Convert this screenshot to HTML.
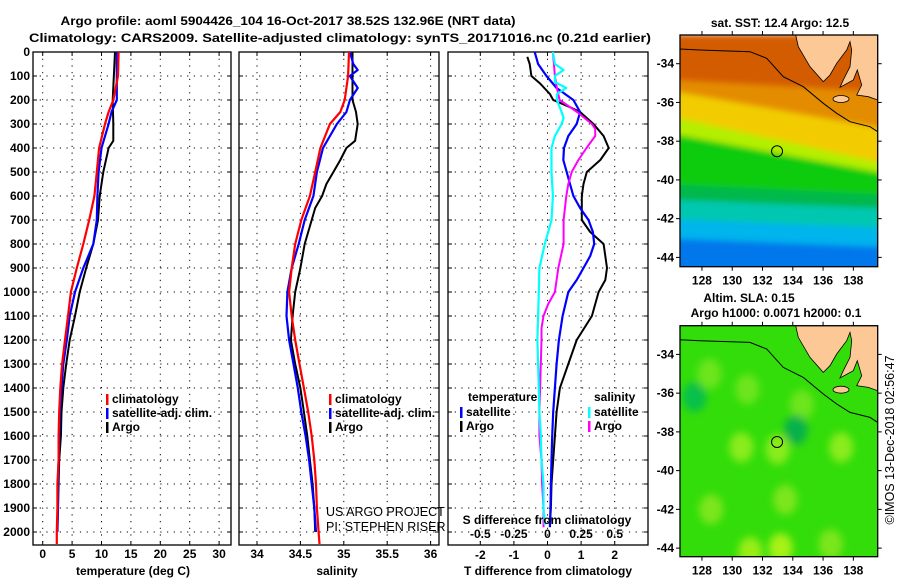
<!DOCTYPE html>
<html><head><meta charset="utf-8"><style>
html,body{margin:0;padding:0;background:#fff;}
svg{display:block;font-family:"Liberation Sans",sans-serif;}
.b{font-weight:bold;font-size:12px;fill:#000;}
</style></head><body>
<svg id="root" width="900" height="580" viewBox="0 0 900 580" xmlns="http://www.w3.org/2000/svg">
<text class="b" x="288" y="25" text-anchor="middle" font-size="13" textLength="455" lengthAdjust="spacingAndGlyphs">Argo profile: aoml 5904426_104 16-Oct-2017 38.52S 132.96E (NRT data)</text>
<text class="b" x="340" y="42" text-anchor="middle" font-size="13" textLength="622" lengthAdjust="spacingAndGlyphs">Climatology: CARS2009. Satellite-adjusted climatology: synTS_20171016.nc (0.21d earlier)</text>
<g id="plots"></g>
<g id="maps"></g>
</svg>
<script>
// ---------- profile data ----------
const tArgoDepth=[0,200,300,370,400,500,600,700,800,900,1000,1100,1200,1300,1400,1500,1600,1700,1800,1900,1980];
const tArgo=[12.3,11.9,12.0,12.0,11.2,10.3,9.7,9.4,8.6,7.4,6.3,5.5,4.6,4.0,3.5,3.2,3.1,2.8,2.7,2.6,2.5];
const tClimDepth=[0,100,200,250,300,400,500,600,700,800,900,1000,1100,1200,1300,1400,1500,1600,1700,1800,1900,2000,2050];
const tClim=[12.9,12.8,12.0,11.2,10.6,9.6,9.2,8.8,7.9,6.9,5.8,4.8,4.3,3.8,3.3,3.0,2.8,2.7,2.7,2.5,2.5,2.4,2.4];
const tSatDepth=[0,200,250,300,400,500,600,700,800,900,1000,1100,1200,1300,1400,1500,1600,1700,1800,1900,2000];
const tSat=[12.6,12.6,11.7,11.2,10.0,9.5,9.3,9.2,8.6,6.9,5.5,4.6,4.1,3.5,3.2,2.9,2.8,2.7,2.6,2.6,2.5];

const sArgoDepth=[0,200,250,300,370,400,450,500,550,600,650,700,800,900,1000,1100,1200,1300,1400,1500,1600,1700,1800,1900,2000];
const sArgo=[35.10,35.10,35.14,35.16,35.13,35.03,34.96,34.88,34.80,34.75,34.67,34.63,34.55,34.50,34.44,34.41,34.39,34.44,34.50,34.54,34.58,34.61,34.64,34.66,34.67];
const sClimDepth=[0,100,200,250,300,400,500,600,700,800,900,1000,1100,1200,1300,1400,1500,1600,1700,1800,1900,2000,2050];
const sClim=[35.06,35.05,35.01,34.96,34.84,34.73,34.67,34.61,34.51,34.44,34.40,34.37,34.40,34.44,34.49,34.54,34.59,34.63,34.66,34.68,34.69,34.71,34.72];
const sSatDepth=[0,50,75,100,150,200,250,300,400,500,600,700,800,900,1000,1100,1200,1300,1400,1500,1600,1700,1800,1900,2000];
const sSat=[35.07,35.11,35.16,35.07,35.16,35.07,35.03,34.92,34.76,34.69,34.65,34.55,34.48,34.40,34.35,34.34,34.37,34.42,34.47,34.51,34.56,34.60,34.63,34.66,34.68];

const dTArgoDepth=[20,50,100,130,175,200,230,250,300,350,400,450,500,550,600,700,750,800,850,900,950,1000,1100,1200,1300,1400,1500,1600,1700,1800,1900,1970];
const dTArgo=[-0.6,-0.53,-0.48,-0.23,0.07,0.17,0.67,0.97,1.37,1.67,1.82,1.57,1.17,1.07,1.02,1.02,1.27,1.67,1.72,1.77,1.72,1.52,1.32,0.87,0.62,0.37,0.27,0.22,0.17,0.12,0.10,0.07];
const dTSatDepth=[0,50,100,150,200,250,300,350,400,450,500,550,600,650,700,750,800,850,900,950,1000,1100,1200,1300,1400,1500,1600,1700,1800,1900,1980];
const dTSat=[-0.38,-0.28,-0.03,0.27,0.77,0.97,0.87,0.62,0.49,0.47,0.57,0.67,0.77,0.97,1.22,1.35,1.39,1.27,1.07,0.87,0.62,0.45,0.34,0.27,0.22,0.17,0.14,0.12,0.10,0.09,0.07];
const dSSatDepth=[0,50,75,100,125,150,175,200,250,275,300,350,400,500,600,700,750,800,900,1000,1100,1200,1300,1400,1500,1600,1700,1800,1900,1970];
const dSSat=[0.04,0.055,0.12,0.055,0.055,0.14,0.07,0.07,0.105,0.12,0.105,0.055,0.03,0.03,0.04,0.03,0.005,-0.02,-0.06,-0.065,-0.07,-0.075,-0.07,-0.065,-0.06,-0.05,-0.045,-0.03,-0.03,-0.02];
const dSArgoDepth=[0,100,150,200,250,300,320,350,400,450,500,550,600,700,800,900,1000,1050,1100,1150,1200,1500,1600,1700,1800,1900,1980];
const dSArgo=[0.04,0.055,0.07,0.09,0.22,0.33,0.355,0.355,0.29,0.23,0.18,0.155,0.14,0.12,0.12,0.08,0.055,0.005,-0.03,-0.045,-0.045,-0.06,-0.06,-0.045,-0.04,-0.03,-0.03];

const depthTicks=[0,100,200,300,400,500,600,700,800,900,1000,1100,1200,1300,1400,1500,1600,1700,1800,1900,2000];
const tempTicks=[0,5,10,15,20,25,30];
const salTicks=[34,34.5,35,35.5,36];
const salTickLabels=["34","34.5","35","35.5","36"];
const dTTicks=[-2,-1,0,1,2];
const dSTicks=[-0.5,-0.25,0,0.25,0.5];
const dSTickLabels=["-0.5","-0.25","0","0.25","0.5"];

const NS="http://www.w3.org/2000/svg";
function mk(tag,attrs,parent,txt){const e=document.createElementNS(NS,tag);for(const k in attrs)e.setAttribute(k,attrs[k]);if(txt!==undefined)e.textContent=txt;parent.appendChild(e);return e;}
const plots=document.getElementById('plots');
const TOP=52,BOT=545;
const yD=d=>TOP+d*0.24;

function panel(name,x0,x1,xfun,vTicks){
  const g=mk('g',{},plots);
  
  
  depthTicks.forEach(d=>{mk('line',{x1:x0,x2:x1,y1:yD(d),y2:yD(d),stroke:'#000','stroke-width':1,'stroke-dasharray':'1.2,5.5'},g);
    mk('line',{x1:x0,x2:x0+4,y1:yD(d),y2:yD(d),stroke:'#000'},g);mk('line',{x1:x1-4,x2:x1,y1:yD(d),y2:yD(d),stroke:'#000'},g);});
  vTicks.forEach(v=>{const x=xfun(v);mk('line',{x1:x,x2:x,y1:TOP,y2:BOT,stroke:'#000','stroke-dasharray':'1.2,5.5'},g);
    mk('line',{x1:x,x2:x,y1:TOP,y2:TOP+4,stroke:'#000'},g);mk('line',{x1:x,x2:x,y1:BOT-4,y2:BOT,stroke:'#000'},g);});
  mk('rect',{x:x0,y:TOP,width:x1-x0,height:BOT-TOP,fill:'none',stroke:'#000','stroke-width':1.3},g);
  return g;
}
function series(g,name,depths,vals,xfun,color,w){
  const pts=depths.map((d,i)=>xfun(vals[i]).toFixed(1)+','+yD(d).toFixed(1)).join(' ');
  const p=mk('polyline',{points:pts,fill:'none',stroke:color,'stroke-width':w,'stroke-linejoin':'round'},g);
  
  
}
function legendRow(g,name,x,y,color,label){
  const r=mk('g',{},g);
  
  
  mk('rect',{x:x,y:y-9,width:2.5,height:11,fill:color},r);
  mk('text',{x:x+6,y:y,class:'b'},r,label);
}

// panel 1 temperature
const xT=v=>42.7+5.88*v;
const g1=panel('temperature-panel',33,231,xT,tempTicks);
depthTicks.forEach(d=>{const t=mk('text',{x:30,y:yD(d)+4,class:'b','text-anchor':'end'},plots,String(d));
  
  });
tempTicks.forEach(v=>{const t=mk('text',{x:xT(v),y:558,class:'b','text-anchor':'middle'},plots,String(v));
  
  });
series(g1,'temp-argo-line',tArgoDepth,tArgo,xT,'#000',2);
series(g1,'temp-satellite-line',tSatDepth,tSat,xT,'#0000ff',2.2);
series(g1,'temp-climatology-line',tClimDepth,tClim,xT,'#ff0000',2.2);
legendRow(g1,'legend-climatology',106,403,'#ff0000','climatology');
legendRow(g1,'legend-satellite-adj',106,417,'#0000ff','satellite-adj. clim.');
legendRow(g1,'legend-argo',106,431,'#000','Argo');
const xl1=mk('text',{x:133,y:575,class:'b','text-anchor':'middle'},plots,'temperature (deg C)');



// panel 2 salinity
const xS=v=>257+86.8*(v-34);
const g2=panel('salinity-panel',239,439,xS,salTicks);
salTicks.forEach((v,i)=>{const t=mk('text',{x:xS(v),y:558,class:'b','text-anchor':'middle'},plots,salTickLabels[i]);
  
  });
series(g2,'sal-argo-line',sArgoDepth,sArgo,xS,'#000',2);
series(g2,'sal-satellite-line',sSatDepth,sSat,xS,'#0000ff',2.2);
series(g2,'sal-climatology-line',sClimDepth,sClim,xS,'#ff0000',2.2);
legendRow(g2,'legend-climatology-2',329,403,'#ff0000','climatology');
legendRow(g2,'legend-satellite-adj-2',329,417,'#0000ff','satellite-adj. clim.');
legendRow(g2,'legend-argo-2',329,431,'#000','Argo');
const c1=mk('text',{x:326,y:516,'font-size':12.5,fill:'#000'},plots,'US ARGO PROJECT');


const c2=mk('text',{x:326,y:531,'font-size':12.5,fill:'#000'},plots,'PI: STEPHEN RISER');


const xl2=mk('text',{x:337,y:575,class:'b','text-anchor':'middle'},plots,'salinity');



// panel 3 differences
const xDT=v=>547.5+33.6*v;
const xDS=v=>xDT(v*4);
const g3=panel('difference-panel',448,648,xDT,dTTicks);
series(g3,'dT-argo-line',dTArgoDepth,dTArgo,xDT,'#000',2);
series(g3,'dT-satellite-line',dTSatDepth,dTSat,xDT,'#0000ff',2.2);
series(g3,'dS-argo-line',dSArgoDepth,dSArgo,xDS,'#ff00ff',2);
series(g3,'dS-satellite-line',dSSatDepth,dSSat,xDS,'#00ffff',2.2);
const lt=mk('text',{x:468,y:401,class:'b'},g3,'temperature');


legendRow(g3,'legend-dT-satellite',460,416,'#0000ff','satellite');
legendRow(g3,'legend-dT-argo',460,430,'#000','Argo');
const ls=mk('text',{x:594,y:401,class:'b'},g3,'salinity');


legendRow(g3,'legend-dS-satellite',588,416,'#00ffff','satellite');
legendRow(g3,'legend-dS-argo',588,430,'#ff00ff','Argo');
const sdl=mk('text',{x:547,y:524,class:'b','text-anchor':'middle'},g3,'S difference from climatology');


dSTicks.forEach((v,i)=>{const t=mk('text',{x:xDS(v),y:538,class:'b','text-anchor':'middle'},g3,dSTickLabels[i]);
  
  });
dTTicks.forEach(v=>{const t=mk('text',{x:xDT(v),y:559,class:'b','text-anchor':'middle'},plots,String(v));
  
  });
const xl3=mk('text',{x:548,y:575,class:'b','text-anchor':'middle'},plots,'T difference from climatology');



// ---------- maps ----------
const lonTicks=[128,130,132,134,136,138];
const latTicks=[-34,-36,-38,-40,-42,-44];
const sstBandLeft=[-32.5,-34.8,-35.3,-36.6,-37.5,-40.2,-41.0,-42.0,-43.0];
const sstBandRight=[-32.5,-35.5,-37.5,-39.3,-39.8,-40.8,-41.5,-42.5,-43.5];
const sstBandColor=['#d45c00','#e48c00','#f2cc00','#b4ee00','#10cc10','#00b84c','#00c8b0','#00b4ec','#0078ec'];
const slaBlobLon=[128.5,130.6,131,133,134.6,137.2,128.6,133.5,133.2,131.2,136.5,127.5,134.2];
const slaBlobLat=[-35,-38.8,-35.8,-38.9,-36.6,-38.8,-42,-41.5,-44,-44.2,-43.8,-36.2,-37.9];
const slaBlobColor=['#77e622','#99ee20','#77e622','#99ee20','#77e622','#99ee20','#88e822','#88e822','#bbf418','#aaf018','#88e822','#00bb55','#00aa55'];

const maps=document.getElementById('maps');
function mapPanel(name,yTop,yBot,kind){
  const X0=680,X1=877.7;
  const lon=v=>X0+(v-126.55)*15.14;
  const y34=yTop+28.7;
  const lat=v=>y34+(-34-v)*19.37;
  const g=mk('g',{},maps);
  
  
  const cid='clip'+kind;
  const defs=mk('defs',{},g);
  const cp=mk('clipPath',{id:cid},defs);mk('rect',{x:X0,y:yTop,width:X1-X0,height:yBot-yTop},cp);
  const fl=mk('filter',{id:'blur'+kind,x:'-50%',y:'-50%',width:'200%',height:'200%'},defs);mk('feGaussianBlur',{stdDeviation:kind==='sst'?3:4},fl);
  const inner=mk('g',{'clip-path':'url(#'+cid+')'},g);
  if(kind==='sst'){
    const bg=mk('g',{filter:'url(#blursst)'},inner);
    for(let i=0;i<sstBandColor.length;i++){
      const l0=lat(sstBandLeft[i]),r0=lat(sstBandRight[i]);
      const c=mk('polygon',{points:`${X0-20},${l0} ${X1+20},${r0} ${X1+20},${yBot+20} ${X0-20},${yBot+20}`,fill:sstBandColor[i]},bg);
      
      
    }
  } else {
    mk('rect',{x:X0,y:yTop,width:X1-X0,height:yBot-yTop,fill:'#33dd0a'},inner);
    const bg=mk('g',{filter:'url(#blursla)'},inner);
    for(let i=0;i<slaBlobLon.length;i++){
      const e=mk('ellipse',{cx:lon(slaBlobLon[i]),cy:lat(slaBlobLat[i]),rx:12,ry:15,fill:slaBlobColor[i],opacity:0.85},bg);
      
      
    }
  }
  const oy=yTop-35;
  const land=[[437,105],[445,140],[480,200],[520,245],[540,225],[560,190],[590,150],[600,125],[605,150],[600,200],[580,240],[570,262],[610,240],[622,210],[635,255],[620,285],[655,290],[683,300],[683,105]]
    .map(p=>(650+p[0]/3).toFixed(1)+','+(oy+p[1]/3).toFixed(1)).join(' ');
  const lp=mk('polygon',{points:land,fill:'#fbc896',stroke:'#000','stroke-width':0.8},inner);
  
  
  const ki=mk('ellipse',{cx:650+573/3,cy:oy+297/3,rx:8,ry:3.5,fill:'#fbc896',stroke:'#000','stroke-width':0.8},inner);
  
  
  const shelf=[[90,147],[150,150],[300,155],[350,175],[400,230],[460,260],[520,310],[560,340],[600,365],[660,380],[683,395]]
    .map(p=>(650+p[0]/3).toFixed(1)+','+(oy+p[1]/3).toFixed(1)).join(' ');
  const sh=mk('polyline',{points:shelf,fill:'none',stroke:'#000','stroke-width':1},inner);
  
  
  const mk1=mk('circle',{cx:lon(132.96),cy:lat(-38.52),r:5.5,fill:'none',stroke:'#000','stroke-width':1},inner);
  
  
  mk('rect',{x:X0,y:yTop,width:X1-X0,height:yBot-yTop,fill:'none',stroke:'#000','stroke-width':1.3},g);
  lonTicks.forEach(v=>{const x=lon(v);mk('line',{x1:x,x2:x,y1:yTop-4,y2:yTop,stroke:'#000'},g);mk('line',{x1:x,x2:x,y1:yBot,y2:yBot+4,stroke:'#000'},g);
    const t=mk('text',{x:x,y:yBot+18,class:'b','text-anchor':'middle'},g,String(v));
    
    });
  latTicks.forEach(v=>{const y=lat(v);mk('line',{x1:X0-4,x2:X0,y1:y,y2:y,stroke:'#000'},g);mk('line',{x1:X1,x2:X1+4,y1:y,y2:y,stroke:'#000'},g);
    const t=mk('text',{x:X0-6,y:y+4,class:'b','text-anchor':'end'},g,String(v));
    
    });
}
mapPanel('sst-map',35,266.7,'sst');
mapPanel('sla-map',325.7,556.7,'sla');
const mt1=mk('text',{x:780,y:27,class:'b','text-anchor':'middle'},maps,'sat. SST: 12.4 Argo: 12.5');


const mt2=mk('text',{x:749,y:302,class:'b','text-anchor':'middle'},maps,'Altim. SLA: 0.15');


const mt3=mk('text',{x:776,y:317,class:'b','text-anchor':'middle'},maps,'Argo h1000: 0.0071 h2000: 0.1');


const cr=mk('text',{x:0,y:0,'font-size':12.5,fill:'#000','text-anchor':'middle',transform:'translate(894,440) rotate(-90)'},maps,'©IMOS 13-Dec-2018 02:56:47');


</script>
</body></html>
